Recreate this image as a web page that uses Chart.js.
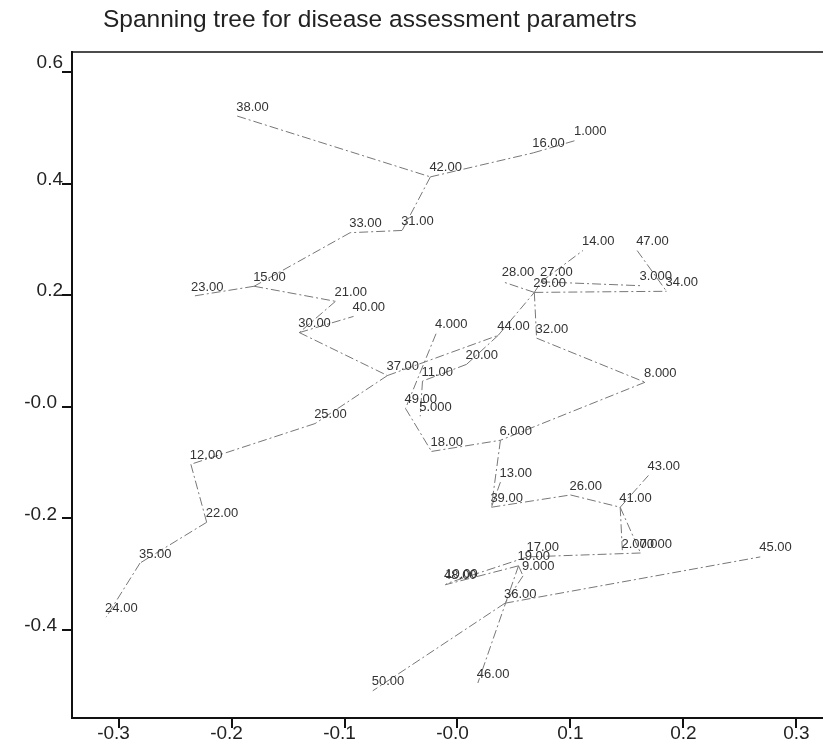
<!DOCTYPE html>
<html><head><meta charset="utf-8">
<script src="https://cdn.jsdelivr.net/npm/chart.js@4.4.1/dist/chart.umd.min.js"></script>
<style>html,body{margin:0;padding:0;background:#fff}#wrap{width:823px;height:752px;position:relative}</style>
</head><body><div id="wrap"><canvas id="c" width="823" height="752"></canvas></div>
<script>
const chartTitle = "Spanning tree for disease assessment parametrs";
const nodeIds = [1,2,3,4,5,6,7,8,9,10,11,12,13,14,15,16,17,18,19,20,21,22,23,24,25,26,27,28,29,30,31,32,33,34,35,36,37,38,39,40,41,42,43,44,45,46,47,48,49,50];
const xValues = [0.104,0.146,0.162,-0.019,-0.033,0.038,0.162,0.166,0.058,-0.010,
                 -0.031,-0.236,0.038,0.111,-0.180,0.067,0.062,-0.023,0.054,0.008,
                 -0.108,-0.222,-0.235,-0.311,-0.126,0.100,0.074,0.040,0.068,-0.140,
                 -0.049,0.070,-0.095,0.185,-0.281,0.042,-0.062,-0.195,0.030,-0.092,
                 0.144,-0.024,0.169,0.036,0.268,0.018,0.159,-0.011,-0.046,-0.075];
const yValues = [0.477,-0.262,0.217,0.131,-0.017,-0.060,-0.262,0.044,-0.303,-0.317,
                 0.046,-0.103,-0.135,0.280,0.216,0.455,-0.269,-0.080,-0.285,0.076,
                 0.189,-0.207,0.198,-0.377,-0.030,-0.158,0.224,0.224,0.205,0.133,
                 0.316,0.123,0.312,0.207,-0.280,-0.352,0.056,0.521,-0.180,0.162,
                 -0.180,0.412,-0.123,0.128,-0.269,-0.495,0.280,-0.319,-0.003,-0.509];
const edgeFrom = [38,42,16,42,31,33,15,15,21,30,30,37,25,12,22,35,37,44,20,11,44,29,29,27,27,29,47,29,32,8,4,49,18,6,13,39,26,41,41,41,7,17,19,19,9,36,36,19];
const edgeTo   = [42,16,1,31,33,15,23,21,30,40,37,25,12,22,35,24,44,20,11,5,29,28,27,14,3,34,34,32,8,6,49,18,6,39,39,26,41,43,2,7,17,10,48,46,36,50,45,9];
const xTickValues = [-0.3,-0.2,-0.1,0,0.1,0.2,0.3];
const yTickValues = [-0.4,-0.2,0,0.2,0.4,0.6];

const FONT = "'Liberation Sans', Arial, sans-serif";
function nodeLabel(n){ return n < 10 ? n.toFixed(3) : n.toFixed(2); }
function tickLabel(v){ return Math.abs(v) < 1e-9 ? '-0.0' : v.toFixed(1); }
function pt(id){ const i = nodeIds.indexOf(id); return {x: xValues[i], y: yValues[i]}; }

const datasets = edgeFrom.map((a, k) => ({
  data: [pt(a), pt(edgeTo[k])],
  showLine: true,
  borderColor: '#777',
  borderWidth: 1,
  borderDash: [9,3,2,3],
  pointRadius: 0,
  fill: false
}));
datasets.push({ data: nodeIds.map(pt), pointRadius: 0, showLine: false });

const labelPlugin = {
  id: 'labels',
  afterDatasetsDraw(chart){
    const ctx = chart.ctx, xs = chart.scales.x, ys = chart.scales.y;
    ctx.save();
    ctx.font = "13px " + FONT;
    ctx.fillStyle = '#333';
    ctx.textBaseline = 'middle';
    ctx.textAlign = 'left';
    nodeIds.forEach((id, i) => {
      const px = xs.getPixelForValue(xValues[i]);
      const py = ys.getPixelForValue(yValues[i]);
      ctx.fillText(nodeLabel(id), px - 1, py - 9);
    });
    const a = chart.chartArea;
    // top frame line
    ctx.strokeStyle = '#111';
    ctx.lineWidth = 1.5;
    ctx.beginPath();
    ctx.moveTo(a.left, a.top);
    ctx.lineTo(a.right, a.top);
    ctx.stroke();
    // tick labels
    ctx.font = "19px " + FONT;
    ctx.fillStyle = '#222';
    ctx.textAlign = 'center';
    xTickValues.forEach(v => {
      const px = xs.getPixelForValue(v) - (v < 0 || Math.abs(v) < 1e-9 ? 5 : 0);
      ctx.fillText(tickLabel(v), px, 734);
    });
    ctx.textAlign = 'right';
    yTickValues.forEach(v => {
      let py = ys.getPixelForValue(v) - 4;
      if (v > 0.55) py -= 5;
      const right = (v < 0 || Math.abs(v) < 1e-9) ? 57 : 63;
      ctx.fillText(tickLabel(v), right, py);
    });
    // title
    ctx.textAlign = 'left';
    ctx.font = "24.5px " + FONT;
    ctx.fillStyle = '#222';
    ctx.fillText(chartTitle, 103, 20);
    ctx.restore();
  }
};

new Chart(document.getElementById('c'), {
  type: 'scatter',
  data: { datasets },
  options: {
    responsive: false,
    devicePixelRatio: 1,
    animation: false,
    layout: { padding: { top: 52, right: 0, left: 0, bottom: 0 } },
    plugins: { legend: { display: false }, tooltip: { enabled: false }, title: { display: false } },
    scales: {
      x: {
        type: 'linear', min: -0.3412, max: 0.3235,
        afterBuildTicks: s => { s.ticks = xTickValues.map(v => ({ value: v })); },
        afterFit: s => { s.height = 34; },
        grid: { drawOnChartArea: false, drawTicks: true, tickLength: 10, color: '#111', lineWidth: 2 },
        border: { display: true, color: '#111', width: 2 },
        ticks: { display: false }
      },
      y: {
        type: 'linear', min: -0.5577, max: 0.6358,
        afterBuildTicks: s => { s.ticks = yTickValues.map(v => ({ value: v })); },
        afterFit: s => { s.width = 72; },
        grid: { drawOnChartArea: false, drawTicks: true, tickLength: 10, color: '#111', lineWidth: 2 },
        border: { display: true, color: '#111', width: 2 },
        ticks: { display: false }
      }
    }
  },
  plugins: [labelPlugin]
});
</script>
</body></html>
